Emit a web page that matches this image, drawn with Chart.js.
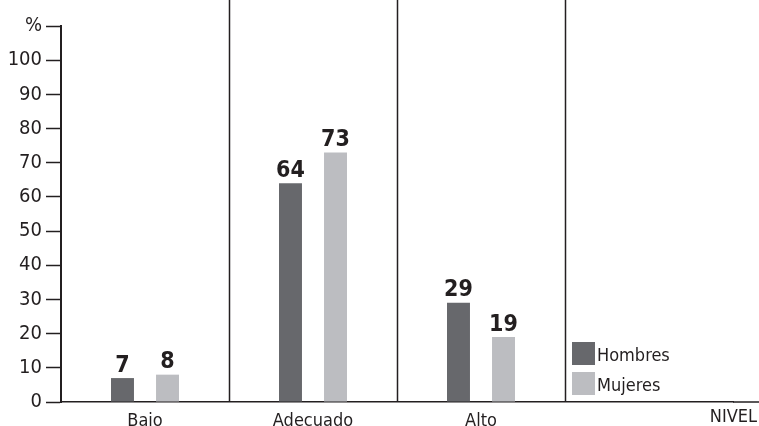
<!DOCTYPE html>
<html>
<head>
<meta charset="utf-8">
<script src="https://cdn.jsdelivr.net/npm/chart.js@4"></script>
<style>
    html, body { margin: 0; padding: 0; background: #fff; }
    #wrap { width: 759px; height: 426px; }
</style>
</head>
<body>
<div id="wrap"><canvas id="nivel-chart"></canvas></div>
<script>
// Nivel por sexo (%)
const categories = ['Bajo', 'Adecuado', 'Alto', ''];
const hombres = [7, 64, 29, null];
const mujeres = [8, 73, 19, null];
const yTicks = [0, 10, 20, 30, 40, 50, 60, 70, 80, 90, 100, 110];

const FONT = "'Liberation Sans Narrow', 'DejaVu Sans Condensed', sans-serif";
const INK = '#231f20';
const DARK = '#67686c';
const LIGHT = '#bcbdc1';

// separators, extended baseline, value labels, legend and axis title
const decorations = {
    id: 'decorations',
    afterDraw(chart) {
        const ctx = chart.ctx;
        const x = chart.scales.x;
        const y = chart.scales.y;
        const base = y.getPixelForValue(0);
        ctx.save();

        ctx.strokeStyle = INK;
        ctx.lineWidth = 1.5;
        for (let i = 1; i < categories.length; i++) {
            const px = Math.round((x.getPixelForValue(i - 1) + x.getPixelForValue(i)) / 2) + 0.5;
            ctx.beginPath();
            ctx.moveTo(px, 0);
            ctx.lineTo(px, base);
            ctx.stroke();
        }
        ctx.beginPath();
        ctx.moveTo(chart.chartArea.right, base);
        ctx.lineTo(chart.width, base);
        ctx.stroke();

        ctx.fillStyle = INK;
        ctx.font = 'bold 23px ' + FONT;
        ctx.textAlign = 'center';
        ctx.textBaseline = 'bottom';
        chart.data.datasets.forEach((ds, di) => {
            chart.getDatasetMeta(di).data.forEach((bar, i) => {
                if (ds.data[i] == null) return;
                ctx.fillText(ds.data[i], bar.x, bar.y - 1);
            });
        });

        // legend
        const lx = 572, ly = 342;
        ctx.font = '18px ' + FONT;
        ctx.textAlign = 'left';
        ctx.textBaseline = 'middle';
        chart.data.datasets.forEach((ds, di) => {
            const top = ly + di * 30;
            ctx.fillStyle = ds.backgroundColor;
            ctx.fillRect(lx, top, 23, 23);
            ctx.fillStyle = INK;
            ctx.fillText(ds.label, lx + 25, top + 14);
        });

        ctx.textAlign = 'right';
        ctx.fillText('NIVEL', chart.width - 2, base + 15);
        ctx.restore();
    }
};

new Chart(document.getElementById('nivel-chart'), {
    type: 'bar',
    data: {
        labels: categories,
        datasets: [
            { label: 'Hombres', data: hombres, backgroundColor: DARK },
            { label: 'Mujeres', data: mujeres, backgroundColor: LIGHT }
        ]
    },
    options: {
        responsive: true,
        maintainAspectRatio: false,
        animation: false,
        datasets: {
            bar: { categoryPercentage: 0.536, barPercentage: 0.51 }
        },
        layout: { padding: { top: 26, right: 26, left: 0, bottom: 0 } },
        plugins: {
            legend: { display: false },
            tooltip: { enabled: false }
        },
        scales: {
            x: {
                grid: { display: false },
                border: { display: true, color: INK, width: 1.5 },
                ticks: { color: INK, font: { family: FONT, size: 18 }, padding: 1 },
                afterFit(scale) { scale.height = 24; }
            },
            y: {
                min: 0,
                max: 110,
                afterBuildTicks(scale) {
                    scale.ticks = yTicks.map(v => ({ value: v }));
                },
                ticks: {
                    color: INK,
                    padding: 4,
                    font: { family: FONT, size: 20 },
                    callback: v => (v === 110 ? '%' : v)
                },
                grid: {
                    drawOnChartArea: false,
                    drawTicks: true,
                    tickLength: 15,
                    tickColor: INK,
                    tickWidth: 1.5
                },
                border: { display: true, color: INK, width: 2 },
                afterFit(scale) { scale.width = 61; }
            }
        }
    },
    plugins: [decorations]
});
</script>
</body>
</html>
